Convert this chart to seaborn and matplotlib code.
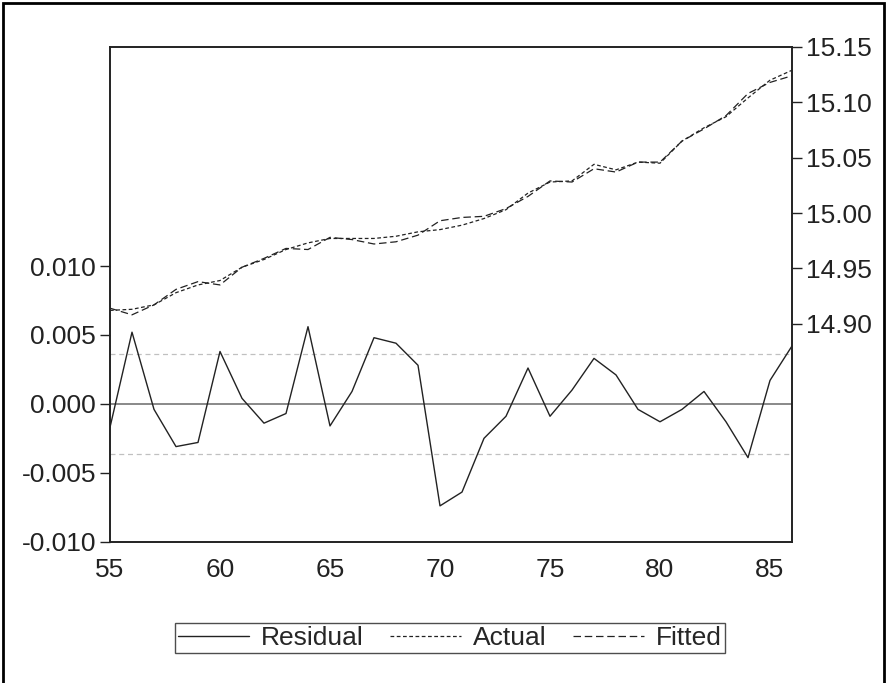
import matplotlib
matplotlib.use("Agg")
import matplotlib.pyplot as plt
from matplotlib.lines import Line2D
from matplotlib.patches import Rectangle
import seaborn as sns

# observations 1955-1986 (two-digit year labels)
years = list(range(55, 87))

residual = [-0.0017, 0.0052, -0.0004, -0.0031, -0.0028, 0.0038, 0.0004, -0.0014,
            -0.0007, 0.0056, -0.0016, 0.0009, 0.0048, 0.0044, 0.0028, -0.0074,
            -0.0064, -0.0025, -0.0009, 0.0026, -0.0009, 0.0010, 0.0033, 0.0021,
            -0.0004, -0.0013, -0.0004, 0.0009, -0.0013, -0.0039, 0.0017, 0.0042]

actual = [14.912, 14.913, 14.917, 14.928, 14.935, 14.939, 14.951, 14.958,
          14.967, 14.973, 14.977, 14.977, 14.977, 14.979, 14.983, 14.985,
          14.989, 14.995, 15.003, 15.018, 15.028, 15.029, 15.044, 15.039,
          15.046, 15.045, 15.065, 15.077, 15.087, 15.104, 15.120, 15.129]

fitted = [14.914, 14.908, 14.917, 14.931, 14.938, 14.935, 14.951, 14.959,
          14.968, 14.967, 14.978, 14.976, 14.972, 14.974, 14.980, 14.993,
          14.996, 14.997, 15.004, 15.015, 15.029, 15.028, 15.040, 15.037,
          15.046, 15.046, 15.065, 15.076, 15.088, 15.108, 15.118, 15.124]

resid_sd = 0.00365  # dashed band around zero

left_ticks = [-0.010, -0.005, 0.000, 0.005, 0.010]
right_ticks = [14.90, 14.95, 15.00, 15.05, 15.10, 15.15]
x_major = [55, 60, 65, 70, 75, 80, 85]

sns.set_style("white")
plt.rcParams["font.family"] = ["Liberation Sans", "DejaVu Sans"]
fs = 19

fig = plt.figure(figsize=(8.87, 6.83), dpi=100)
ax = fig.add_axes([110 / 887, 1 - 541.7 / 683, (792 - 110) / 887, (541.7 - 47) / 683])
ax2 = ax.twinx()

# residual on left axis
ax.axhline(0, color="#808080", lw=1.3, zorder=1)
ax.axhline(resid_sd, color="#c0c0c0", lw=0.9, ls=(0, (4, 3)), zorder=1)
ax.axhline(-resid_sd, color="#c0c0c0", lw=0.9, ls=(0, (4, 3)), zorder=1)
sns.lineplot(x=years, y=residual, ax=ax, color="#222222", lw=1.0, zorder=3)

# actual / fitted on right axis
sns.lineplot(x=years, y=actual, ax=ax2, color="#222222", lw=0.9, linestyle=(0, (3, 2)))
sns.lineplot(x=years, y=fitted, ax=ax2, color="#222222", lw=0.9, linestyle=(0, (6, 3)))

ax.set_xlim(55, 86)
ax.set_ylim(-0.010, 0.02589)
ax2.set_ylim(14.703, 15.15)

ax.set_xticks(x_major)
ax.set_xticklabels([str(v) for v in x_major])
ax.set_xticks(years, minor=True)
ax.set_yticks(left_ticks)
ax.set_yticklabels([f"{v:.3f}" for v in left_ticks])
ax2.set_yticks(right_ticks)
ax2.set_yticklabels([f"{v:.2f}" for v in right_ticks])

for a in (ax, ax2):
    for s in a.spines.values():
        s.set_color("#222222")
        s.set_linewidth(1.2)
    a.set_xlabel("")
    a.set_ylabel("")

ax.tick_params(axis="x", which="major", direction="out", length=9.5, width=1, colors="#222222",
               labelsize=fs, pad=2)
ax.tick_params(axis="x", which="minor", direction="out", length=6, width=1, colors="#222222")
ax.tick_params(axis="y", direction="out", length=7, width=1, colors="#222222", labelsize=fs, pad=3)
ax2.tick_params(axis="y", direction="out", length=7, width=1, colors="#222222", labelsize=fs, pad=3)
ax2.tick_params(axis="x", which="both", bottom=False, top=False)

handles = [
    Line2D([], [], color="#222222", lw=1.0),
    Line2D([], [], color="#222222", lw=0.9, linestyle=(0, (3, 2))),
    Line2D([], [], color="#222222", lw=0.9, linestyle=(0, (6, 3))),
]
leg = fig.legend(handles, ["Residual", "Actual", "Fitted"], loc="center",
                 bbox_to_anchor=(450 / 887, 1 - 638 / 683), ncol=3, frameon=True,
                 fancybox=False, edgecolor="#222222", fontsize=fs, handlelength=2.7,
                 columnspacing=1.0, handletextpad=0.45, borderpad=0.12)
leg.get_frame().set_linewidth(1.0)

# outer frame around the whole graph
fig.patches.append(Rectangle((3 / 887, -0.05), 881 / 887, 1.05 - 3 / 683,
                             transform=fig.transFigure, fill=False,
                             edgecolor="black", lw=2.0))

fig.savefig("out.png", dpi=100)
